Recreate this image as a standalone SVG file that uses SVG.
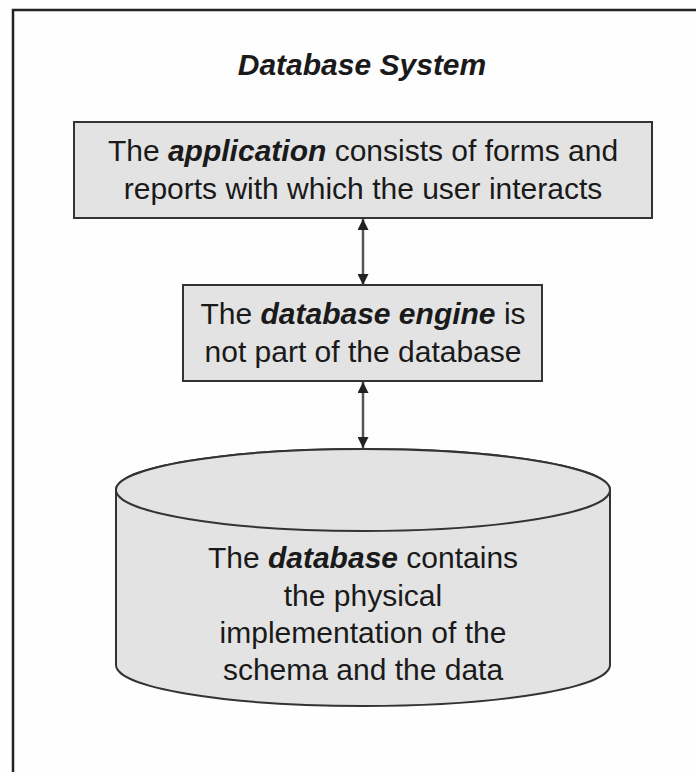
<svg xmlns="http://www.w3.org/2000/svg" width="696" height="772" viewBox="0 0 696 772">
  <style>
    .box { fill: #e3e3e3; stroke: #333; stroke-width: 2; }
    .txt { font-family: "Liberation Sans", Arial, sans-serif; font-size: 30px; fill: #1a1a1a; text-anchor: middle; }
    .em { font-weight: bold; font-style: italic; }
    .conn { stroke: #555; stroke-width: 2.5; fill: none; marker-start: url(#arr); marker-end: url(#arr); }
    .frame { stroke: #222; stroke-width: 2.5; fill: none; }
  </style>
  <defs>
    <marker id="arr" viewBox="0 0 10 10" refX="10" refY="5" markerWidth="11" markerHeight="11" markerUnits="userSpaceOnUse" orient="auto-start-reverse">
      <path d="M0,0 L10,5 L0,10 Z" fill="#222"/>
    </marker>
  </defs>
  <rect width="696" height="772" fill="#fefefe"/>
  <g id="frame">
    <path class="frame" d="M13,772 L13,10 L696,10"/>
  </g>
  <g id="title">
    <text class="txt em" x="362" y="75">Database System</text>
  </g>
  <g id="connectors">
    <line class="conn" x1="363" y1="219" x2="363" y2="285"/>
    <line class="conn" x1="363" y1="382" x2="363" y2="448"/>
  </g>
  <g id="application">
    <rect class="box" x="74" y="122" width="578" height="96"/>
    <text class="txt" x="363" y="161">The <tspan class="em">application</tspan> consists of forms and</text>
    <text class="txt" x="363" y="199">reports with which the user interacts</text>
  </g>
  <g id="engine">
    <rect class="box" x="183" y="285" width="359" height="96"/>
    <text class="txt" x="363" y="324">The <tspan class="em">database engine</tspan> is</text>
    <text class="txt" x="363" y="362">not part of the database</text>
  </g>
  <g id="database">
    <path class="box" d="M116,490 L116,665 A247,41 0 0 0 610,665 L610,490 A247,41 0 0 0 116,490 Z"/>
    <ellipse class="box" cx="363" cy="490" rx="247" ry="41"/>
    <text class="txt" x="363" y="568">The <tspan class="em">database</tspan> contains</text>
    <text class="txt" x="363" y="606">the physical</text>
    <text class="txt" x="363" y="643">implementation of the</text>
    <text class="txt" x="363" y="680">schema and the data</text>
  </g>
</svg>
